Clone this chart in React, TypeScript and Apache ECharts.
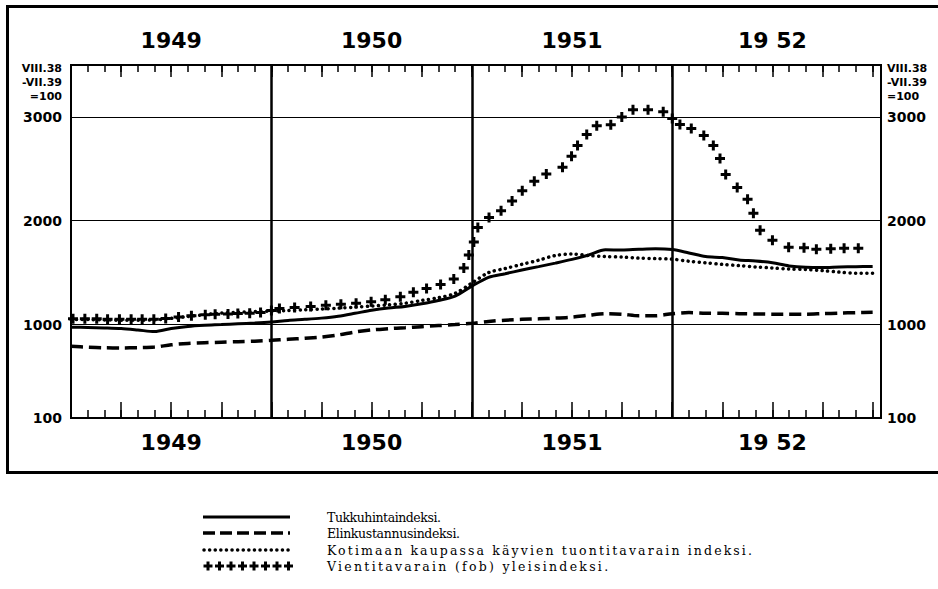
import React, { useEffect, useRef } from 'react';
import * as echarts from 'echarts';

// Month index: 0 = start of Jan 1949, 48 = end of Dec 1952
const months = [0, 1, 2, 3, 4, 5, 6, 7, 8, 9, 10, 11, 12, 13, 14, 15, 16, 17, 18, 19, 20, 21, 22, 23, 24,
  25, 26, 27, 28, 29, 30, 31, 32, 33, 34, 35, 36, 37, 38, 39, 40, 41, 42, 43, 44, 45, 46, 47, 48];

// Tukkuhintaindeksi (solid)
const tukku = [975, 972, 968, 962, 948, 932, 962, 982, 993, 1000, 1008, 1015, 1025,
  1040, 1050, 1062, 1080, 1108, 1138, 1160, 1175, 1200, 1232, 1275, 1370,
  1455, 1490, 1525, 1558, 1592, 1628, 1670, 1720, 1718, 1725, 1730, 1722,
  1690, 1655, 1645, 1622, 1612, 1595, 1565, 1552, 1550, 1555, 1558, 1560];

// Elinkustannusindeksi (dashed)
const elin = [790, 782, 776, 775, 777, 783, 805, 818, 825, 830, 835, 840, 848,
  858, 868, 880, 900, 928, 948, 960, 970, 980, 990, 1000, 1012,
  1030, 1042, 1050, 1055, 1062, 1072, 1090, 1105, 1100, 1085, 1085, 1105,
  1115, 1110, 1108, 1105, 1102, 1100, 1100, 1100, 1105, 1110, 1115, 1118];

// Kotimaan kaupassa käyvien tuontitavarain indeksi (dotted)
const kotimaa = [1050, 1048, 1045, 1042, 1042, 1045, 1060, 1078, 1095, 1110, 1118, 1125, 1130,
  1135, 1142, 1150, 1158, 1168, 1178, 1190, 1205, 1232, 1258, 1300, 1400,
  1500, 1540, 1580, 1620, 1665, 1680, 1665, 1655, 1650, 1640, 1635, 1630,
  1610, 1595, 1580, 1568, 1555, 1545, 1535, 1530, 1520, 1505, 1495, 1495];

// Vientitavarain (fob) yleisindeksi (crosses) — positions in months, values
const vientiMonths = [0.12, 0.83, 1.54, 2.19, 2.9, 3.6, 4.26, 4.96, 5.67, 6.44, 7.21, 8.04, 8.63, 9.4, 9.99, 10.7, 11.35, 12.0,
  12.48, 13.39, 14.35, 15.26, 16.16, 17.07, 17.97, 18.82, 19.72, 20.5, 21.29, 22.13, 22.92, 23.52, 23.82, 24.12,
  24.36, 25.03, 25.75, 26.41, 27.02, 27.74, 28.46, 29.43, 29.97, 30.33, 30.88, 31.48, 32.32, 32.98, 33.65, 34.55, 35.46, 36.0,
  36.46, 37.14, 37.89, 38.46, 38.86, 39.2, 39.89, 40.51, 40.86, 41.26, 42.0, 42.97, 43.89, 44.63, 45.49, 46.29, 47.14];
const vientiValues = [1055, 1055, 1055, 1052, 1050, 1050, 1050, 1052, 1058, 1072, 1085, 1095, 1100, 1102, 1106, 1110, 1115, 1135,
  1155, 1165, 1175, 1185, 1195, 1205, 1220, 1238, 1268, 1312, 1348, 1385, 1440, 1545, 1670, 1795,
  1935, 2030, 2095, 2190, 2290, 2380, 2450, 2515, 2620, 2725, 2830, 2915, 2925, 3000, 3070, 3070, 3050, 2985,
  2927, 2888, 2821, 2725, 2600, 2446, 2321, 2206, 2071, 1908, 1812, 1745, 1740, 1725, 1730, 1735, 1735];

const yearLabels = ['1949', '1950', '1951', '19 52'];
const yearMid = [6, 18, 30, 42];
const yearBounds = [12, 24, 36];
const yTicks = [100, 1000, 2000, 3000];
const gridValues = [1000, 2000, 3000];
const baseText = 'VIII.38\n-VII.39\n=100';

const legendNames = [
  'Tukkuhintaindeksi.',
  'Elinkustannusindeksi.',
  'Kotimaan kaupassa käyvien tuontitavarain indeksi.',
  'Vientitavarain (fob) yleisindeksi.',
];

const PLUS = 'path://M3.5,0H6.5V3.5H10V6.5H6.5V10H3.5V6.5H0V3.5H3.5Z';

export default function App() {
  const ref = useRef<HTMLDivElement>(null);
  useEffect(() => {
    const chart = echarts.init(ref.current!, null, { renderer: 'svg' });
    const tickStyle = { color: '#000', width: 1.5 };
    const baseX: any = {
      type: 'value', min: 0, max: 48.5, gridIndex: 0,
      axisLine: { show: false, onZero: false },
      splitLine: { show: false },
      axisLabel: { show: false },
    };
    const yearLabelStyle = {
      show: true, customValues: yearMid,
      formatter: (v: number) => yearLabels[yearMid.indexOf(v)] ?? '',
      fontSize: 22, fontWeight: 'bold', fontFamily: 'DejaVu Sans', color: '#000',
    };
    const yLabel = {
      customValues: yTicks, formatter: (v: number) => String(v),
      fontSize: 14, fontWeight: 'bold', fontFamily: 'DejaVu Sans', color: '#000',
    };
    const legendY = [517, 533, 550, 566];
    const legendEnd = [441, 460, 752, 608];
    const legendFont = '12.5px "DejaVu Serif"';
    const lx0 = 203, lx1 = 290;
    const graphics: any[] = [
      { type: 'rect', shape: { x: 7.5, y: 6.5, width: 945, height: 466 }, style: { fill: 'none', stroke: '#000', lineWidth: 3 } },
      { type: 'text', x: 62, y: 61, style: { text: baseText, align: 'right', verticalAlign: 'top', fontSize: 11, lineHeight: 14, fontWeight: 'bold', fontFamily: 'DejaVu Sans', fill: '#000' } },
      { type: 'text', x: 887, y: 61, style: { text: baseText, align: 'left', verticalAlign: 'top', fontSize: 11, lineHeight: 14, fontWeight: 'bold', fontFamily: 'DejaVu Sans', fill: '#000' } },
      { type: 'line', shape: { x1: lx0, y1: legendY[0], x2: lx1, y2: legendY[0] }, style: { stroke: '#000', lineWidth: 3 } },
      { type: 'line', shape: { x1: lx0, y1: legendY[1], x2: lx1, y2: legendY[1] }, style: { stroke: '#000', lineWidth: 3.5, lineDash: [12, 5] } },
      { type: 'line', shape: { x1: lx0 + 1, y1: legendY[2], x2: lx1, y2: legendY[2] }, style: { stroke: '#000', lineWidth: 3.5, lineDash: [0.1, 5.5], lineCap: 'round' } },
    ];
    for (let k = 0; k < 8; k++) {
      const cx = lx0 + 5 + k * 11.5;
      const cy = legendY[3];
      graphics.push({ type: 'rect', shape: { x: cx - 4.5, y: cy - 1.5, width: 9, height: 3 }, style: { fill: '#000' } });
      graphics.push({ type: 'rect', shape: { x: cx - 1.5, y: cy - 4.5, width: 3, height: 9 }, style: { fill: '#000' } });
    }
    legendNames.forEach((n, i) => {
      graphics.push({ type: 'text', x: 327, y: legendY[i], style: { text: n, align: 'left', verticalAlign: 'middle', fontSize: 12.5, fontFamily: 'DejaVu Serif', fill: '#000' } });
    });

    const option: any = {
      animation: false,
      backgroundColor: '#fff',
      grid: { left: 71, top: 65, width: 810, height: 353, show: true, borderColor: '#000', borderWidth: 2, backgroundColor: 'transparent' },
      xAxis: [
        { ...baseX, position: 'bottom', interval: 1, axisTick: { show: true, inside: true, length: 8, lineStyle: tickStyle } },
        { ...baseX, position: 'bottom', interval: 3, axisTick: { show: true, inside: true, length: 16, lineStyle: tickStyle } },
        { ...baseX, position: 'top', interval: 1, axisTick: { show: true, inside: true, length: 7, lineStyle: tickStyle } },
        { ...baseX, position: 'top', interval: 3, axisTick: { show: true, inside: true, length: 12, lineStyle: tickStyle } },
        { ...baseX, position: 'bottom', axisTick: { show: false }, axisLabel: { ...yearLabelStyle, margin: 13 } },
        { ...baseX, position: 'top', axisTick: { show: false }, axisLabel: { ...yearLabelStyle, margin: 14 } },
      ],
      yAxis: [
        { type: 'value', min: 100, max: 3500, position: 'left', axisLine: { show: false, onZero: false }, axisTick: { show: false }, splitLine: { show: false }, axisLabel: { ...yLabel, margin: 9 } },
        { type: 'value', min: 100, max: 3500, position: 'right', axisLine: { show: false, onZero: false }, axisTick: { show: false }, splitLine: { show: false }, axisLabel: { ...yLabel, margin: 6 } },
      ],
      series: [
        {
          name: legendNames[0], type: 'line', xAxisIndex: 0, yAxisIndex: 0,
          data: months.map((m, i) => [m, tukku[i]]), smooth: 0.3, showSymbol: false,
          lineStyle: { color: '#000', width: 3 }, z: 3,
          markLine: {
            silent: true, symbol: ['none', 'none'], label: { show: false },
            data: [
              ...gridValues.map((v) => ({ yAxis: v, lineStyle: { color: '#000', width: 1.2, type: 'solid' } })),
              ...yearBounds.map((v) => ({ xAxis: v, lineStyle: { color: '#000', width: 2.5, type: 'solid' } })),
            ],
          },
        },
        {
          name: legendNames[1], type: 'line', data: months.map((m, i) => [m, elin[i]]), smooth: 0.3, showSymbol: false,
          lineStyle: { color: '#000', width: 3.5, type: [12, 6] }, z: 3,
        },
        {
          name: legendNames[2], type: 'line', data: months.map((m, i) => [m, kotimaa[i]]), smooth: 0.3, showSymbol: false,
          lineStyle: { color: '#000', width: 3.5, type: [0.1, 5.5], cap: 'round' }, z: 3,
        },
        {
          name: legendNames[3], type: 'line', data: vientiMonths.map((m, i) => [m, vientiValues[i]]),
          showSymbol: true, showAllSymbol: true, symbol: PLUS, symbolSize: 10,
          itemStyle: { color: '#000' }, lineStyle: { width: 0, opacity: 0 }, z: 4,
        },
      ],
      graphic: graphics,
    };
    chart.setOption(option);

    // The printed legend is letter-spaced; widen each legend text to its printed length.
    try {
      const ctx = document.createElement('canvas').getContext('2d');
      if (ctx && ref.current) {
        ctx.font = legendFont;
        const texts = Array.from(ref.current.querySelectorAll('text'));
        texts.forEach((t) => {
          const idx = legendNames.indexOf((t.textContent || '').trim());
          if (idx >= 0) {
            const s = legendNames[idx];
            const natural = ctx.measureText(s).width;
            const ls = (legendEnd[idx] - 327 - natural) / Math.max(1, s.length - 1);
            t.setAttribute('letter-spacing', ls.toFixed(2));
          }
        });
      }
    } catch (e) { /* ignore */ }
    return () => chart.dispose();
  }, []);
  return <div ref={ref} style={{ position: 'fixed', left: 0, top: 0, width: 938, height: 589, background: '#fff' }} />;
}
